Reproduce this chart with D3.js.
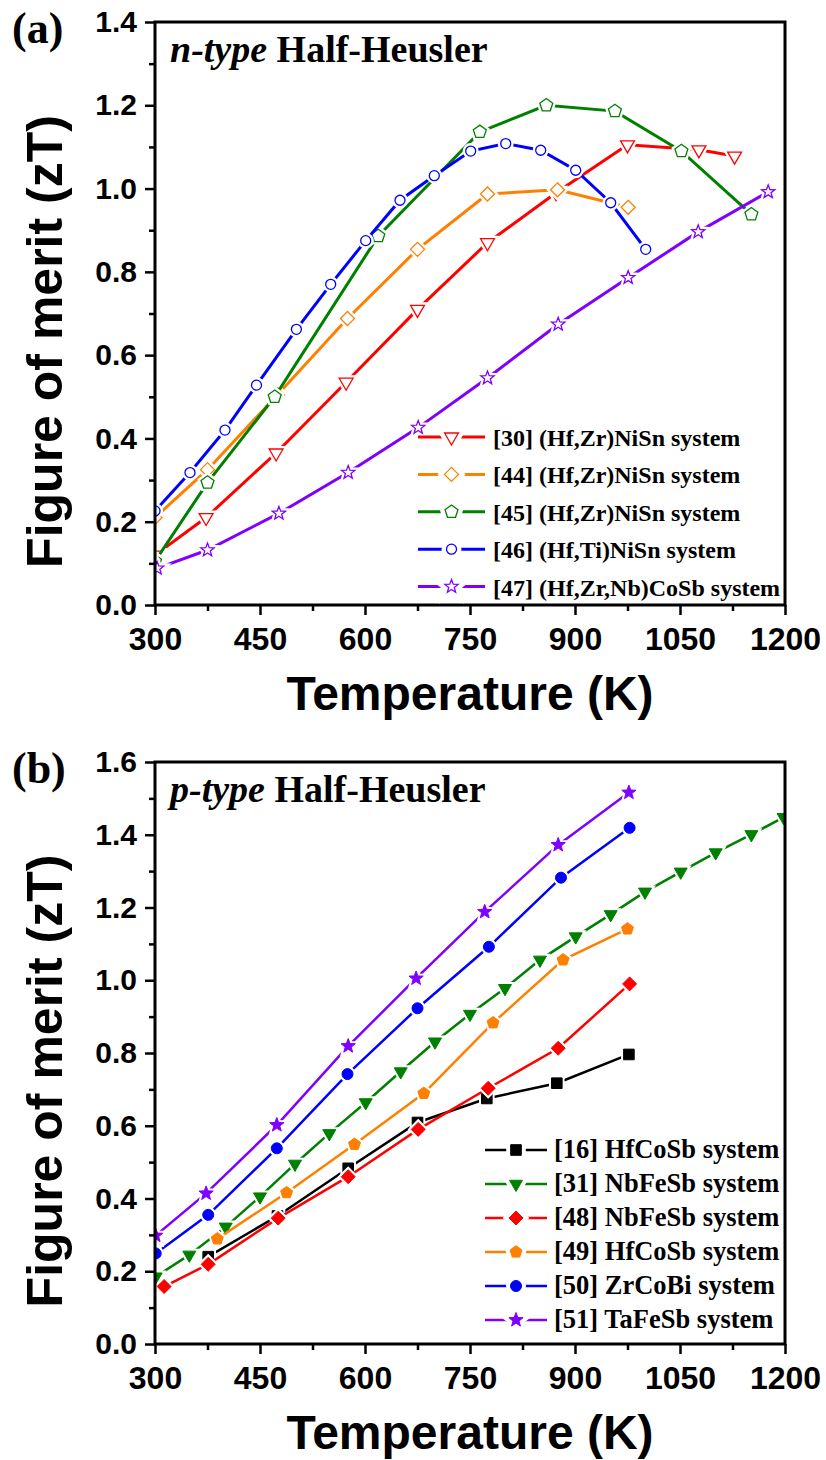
<!DOCTYPE html>
<html>
<head>
<meta charset="utf-8">
<script src="https://cdn.jsdelivr.net/npm/d3@7"></script>
<style>
  body { margin: 0; background: #fff; }
  svg { display: block; }
</style>
</head>
<body>
<div id="chart"></div>
<script>
// temperature ticks shared by both panels
const tempTicks = [300, 450, 600, 750, 900, 1050, 1200];
const tempMinor = [375, 525, 675, 825, 975, 1125];

// (a) n-type half-Heusler, [T (K), zT]
const nLabels = ["[30] (Hf,Zr)NiSn system", "[44] (Hf,Zr)NiSn system", "[45] (Hf,Zr)NiSn system",
                 "[46] (Hf,Ti)NiSn system", "[47] (Hf,Zr,Nb)CoSb system"];
const n30 = [[300, 0.12], [373, 0.21], [473, 0.365], [573, 0.535], [675, 0.71], [775, 0.87], [873, 0.99], [975, 1.105], [1077, 1.093], [1128, 1.078]];
const n44 = [[300, 0.21], [375, 0.325], [475, 0.505], [575, 0.688], [675, 0.854], [775, 0.987], [875, 0.997], [976, 0.955]];
const n45 = [[300, 0.105], [375, 0.294], [471, 0.50], [619, 0.886], [764, 1.136], [859, 1.20], [957, 1.186], [1052, 1.09], [1152, 0.938]];
const n46 = [[300, 0.226], [350, 0.318], [400, 0.42], [445, 0.528], [502, 0.662], [551, 0.77], [601, 0.875], [650, 0.972],
             [699, 1.031], [751, 1.09], [801, 1.108], [851, 1.092], [901, 1.044], [951, 0.966], [1001, 0.854]];
const n47 = [[303, 0.088], [375, 0.132], [477, 0.22], [576, 0.318], [676, 0.426], [775, 0.545], [876, 0.674], [976, 0.786], [1076, 0.896], [1176, 0.992]];

// (b) p-type half-Heusler
const pLabels = ["[16] HfCoSb system", "[31] NbFeSb system", "[48] NbFeSb system",
                 "[49] HfCoSb system", "[50] ZrCoBi system", "[51] TaFeSb system"];
const p16 = [[376, 0.24], [475, 0.352], [576, 0.483], [675, 0.609], [774, 0.675], [874, 0.717], [977, 0.796]];
const p31 = [[301, 0.185], [349, 0.245], [401, 0.322], [450, 0.405], [500, 0.495], [549, 0.579], [601, 0.664], [651, 0.749],
             [700, 0.831], [750, 0.907], [800, 0.978], [850, 1.056], [901, 1.12], [951, 1.181], [1000, 1.243], [1051, 1.298],
             [1101, 1.351], [1152, 1.401], [1198, 1.448]];
const p48 = [[313, 0.158], [376, 0.219], [476, 0.346], [576, 0.46], [676, 0.59], [776, 0.703], [876, 0.813], [978, 0.99]];
const p49 = [[389, 0.289], [488, 0.416], [585, 0.549], [684, 0.689], [783, 0.883], [883, 1.056], [975, 1.141]];
const p50 = [[301, 0.249], [376, 0.355], [474, 0.538], [575, 0.742], [675, 0.923], [777, 1.092], [880, 1.282], [978, 1.419]];
const p51 = [[301, 0.298], [373, 0.414], [474, 0.602], [576, 0.819], [673, 1.005], [771, 1.188], [876, 1.372], [977, 1.516]];

// custom marker shapes, size = radius
const triDown = { draw(c, r) { const h = r * Math.sqrt(3) / 2; c.moveTo(0, r); c.lineTo(h, -r / 2); c.lineTo(-h, -r / 2); c.closePath(); } };
const diamond = { draw(c, r) { c.moveTo(0, -r); c.lineTo(r, 0); c.lineTo(0, r); c.lineTo(-r, 0); c.closePath(); } };
const pentagon = { draw(c, r) {
  for (let k = 0; k < 5; k++) {
    const a = -Math.PI / 2 + k * 2 * Math.PI / 5;
    k ? c.lineTo(r * Math.cos(a), r * Math.sin(a)) : c.moveTo(r * Math.cos(a), r * Math.sin(a));
  }
  c.closePath();
} };
const star = { draw(c, r) {
  for (let k = 0; k < 10; k++) {
    const a = -Math.PI / 2 + k * Math.PI / 5, rr = k % 2 ? r * 0.42 : r;
    k ? c.lineTo(rr * Math.cos(a), rr * Math.sin(a)) : c.moveTo(rr * Math.cos(a), rr * Math.sin(a));
  }
  c.closePath();
} };
const circle = { draw(c, r) { c.moveTo(r, 0); c.arc(0, 0, r, 0, 2 * Math.PI); } };
const square = { draw(c, r) { c.rect(-r, -r, 2 * r, 2 * r); } };

const nSeries = [
  { data: n30, color: "#ff0000", mark: triDown, r: 8 },
  { data: n44, color: "#ff8000", mark: diamond, r: 7 },
  { data: n45, color: "#008000", mark: pentagon, r: 6.8 },
  { data: n46, color: "#0000ff", mark: circle, r: 5 },
  { data: n47, color: "#8000ff", mark: star, r: 7 }
].map((s, i) => ({ ...s, label: nLabels[i] }));

const pSeries = [
  { data: p16, color: "#000000", mark: square, r: 5.3 },
  { data: p31, color: "#008000", mark: triDown, r: 7.5 },
  { data: p48, color: "#ff0000", mark: diamond, r: 7 },
  { data: p49, color: "#ff8000", mark: pentagon, r: 6.3 },
  { data: p50, color: "#0000ff", mark: circle, r: 5.5 },
  { data: p51, color: "#8000ff", mark: star, r: 7.5 }
].map((s, i) => ({ ...s, label: pLabels[i] }));

const svg = d3.select("#chart").append("svg")
  .attr("width", 826)
  .attr("height", 1460);

const left = 155, right = 785;
const sans = "'Liberation Sans', Arial, sans-serif";
const serif = "'Liberation Serif', 'Times New Roman', serif";

function drawPanel(p) {
  const g = svg.append("g");
  const x = d3.scaleLinear().domain([300, 1200]).range([left, right]);
  const y = d3.scaleLinear().domain([0, p.yMax]).range([p.bottom, p.top]);

  const clipId = "clip-" + p.id;
  g.append("clipPath").attr("id", clipId)
    .append("rect")
    .attr("x", left).attr("y", p.top)
    .attr("width", right - left).attr("height", p.bottom - p.top);

  const line = d3.line().x(d => x(d[0])).y(d => y(d[1]));
  const plot = g.append("g").attr("clip-path", `url(#${clipId})`);

  p.series.forEach(s => {
    const sg = plot.append("g");
    sg.append("path")
      .datum(s.data)
      .attr("fill", "none")
      .attr("stroke", s.color)
      .attr("stroke-width", p.lineWidth)
      .attr("d", line);
    // white halo gives the gap between line and marker
    sg.selectAll(".halo").data(s.data).join("path")
      .attr("class", "halo")
      .attr("transform", d => `translate(${x(d[0])},${y(d[1])})`)
      .attr("d", d3.symbol(s.mark, s.r))
      .attr("fill", "#fff")
      .attr("stroke", "#fff")
      .attr("stroke-width", p.halo);
    sg.selectAll(".mk").data(s.data).join("path")
      .attr("class", "mk")
      .attr("transform", d => `translate(${x(d[0])},${y(d[1])})`)
      .attr("d", d3.symbol(s.mark, s.r))
      .attr("fill", p.open ? "#fff" : s.color)
      .attr("stroke", s.color)
      .attr("stroke-width", p.open ? 1.3 : 1);
  });

  // axes
  const yMajor = d3.range(0, p.yMax + 0.001, 0.2);
  const yMinor = d3.range(0.1, p.yMax, 0.2);

  const xAx = g.append("g")
    .attr("transform", `translate(0,${p.bottom})`)
    .call(d3.axisBottom(x).tickValues(tempTicks).tickSize(10).tickPadding(12).tickFormat(d3.format("d")));
  g.append("g")
    .attr("transform", `translate(0,${p.bottom})`)
    .call(d3.axisBottom(x).tickValues(tempMinor).tickSize(6).tickFormat(""));
  const yAx = g.append("g")
    .attr("transform", `translate(${left},0)`)
    .call(d3.axisLeft(y).tickValues(yMajor).tickSize(10).tickPadding(8).tickFormat(d3.format(".1f")));
  g.append("g")
    .attr("transform", `translate(${left},0)`)
    .call(d3.axisLeft(y).tickValues(yMinor).tickSize(6).tickFormat(""));

  g.selectAll(".domain").remove();
  g.selectAll(".tick line").attr("stroke", "#000").attr("stroke-width", 2.5);
  xAx.selectAll("text").attr("font-family", sans).attr("font-weight", "bold").attr("font-size", 32).attr("fill", "#000");
  yAx.selectAll("text").attr("font-family", sans).attr("font-weight", "bold").attr("font-size", 30).attr("fill", "#000");

  g.append("rect")
    .attr("x", left).attr("y", p.top)
    .attr("width", right - left).attr("height", p.bottom - p.top)
    .attr("fill", "none")
    .attr("stroke", "#000")
    .attr("stroke-width", 3);

  // axis titles
  g.append("text")
    .attr("x", (left + right) / 2)
    .attr("y", p.bottom + 105)
    .attr("text-anchor", "middle")
    .attr("font-family", sans).attr("font-weight", "bold").attr("font-size", 48)
    .text("Temperature (K)");
  g.append("text")
    .attr("transform", `translate(62,${(p.top + p.bottom) / 2 + 28}) rotate(-90)`)
    .attr("text-anchor", "middle")
    .attr("font-family", sans).attr("font-weight", "bold").attr("font-size", 50)
    .text("Figure of merit (zT)");

  // panel tag and subtitle
  g.append("text")
    .attr("x", 12).attr("y", p.top + 21)
    .attr("font-family", serif).attr("font-weight", "bold").attr("font-size", 44)
    .text(p.tag);
  const sub = g.append("text")
    .attr("x", 170).attr("y", p.top + 40)
    .attr("font-family", serif).attr("font-weight", "bold").attr("font-size", 38);
  sub.append("tspan").attr("font-style", "italic").text(p.kind);
  sub.append("tspan").text(" Half-Heusler");

  // legend
  const lg = g.append("g");
  p.series.forEach((s, i) => {
    const ly = p.legY + i * p.legStep;
    const row = lg.append("g").attr("transform", `translate(0,${ly})`);
    row.append("line")
      .attr("x1", p.legX0).attr("x2", p.legX1)
      .attr("stroke", s.color).attr("stroke-width", p.lineWidth);
    const mx = (p.legX0 + p.legX1) / 2;
    row.append("path")
      .attr("transform", `translate(${mx},0)`)
      .attr("d", d3.symbol(s.mark, s.r))
      .attr("fill", "#fff").attr("stroke", "#fff").attr("stroke-width", p.halo + 4);
    row.append("path")
      .attr("transform", `translate(${mx},0)`)
      .attr("d", d3.symbol(s.mark, s.r))
      .attr("fill", p.open ? "#fff" : s.color)
      .attr("stroke", s.color)
      .attr("stroke-width", p.open ? 1.3 : 1);
    row.append("text")
      .attr("x", p.legText).attr("y", p.legBase)
      .attr("font-family", serif).attr("font-weight", "bold").attr("font-size", p.legFont)
      .text(s.label);
  });
}

drawPanel({
  id: "a", tag: "(a)", kind: "n-type", series: nSeries,
  top: 22, bottom: 605, yMax: 1.4, open: true, lineWidth: 3, halo: 6,
  legX0: 418, legX1: 485, legText: 493, legY: 437, legStep: 37.4, legBase: 9, legFont: 24
});

drawPanel({
  id: "b", tag: "(b)", kind: "p-type", series: pSeries,
  top: 762, bottom: 1344, yMax: 1.6, open: false, lineWidth: 2.5, halo: 5,
  legX0: 485, legX1: 547, legText: 554, legY: 1150, legStep: 34, legBase: 8, legFont: 26.5
});
</script>
</body>
</html>
